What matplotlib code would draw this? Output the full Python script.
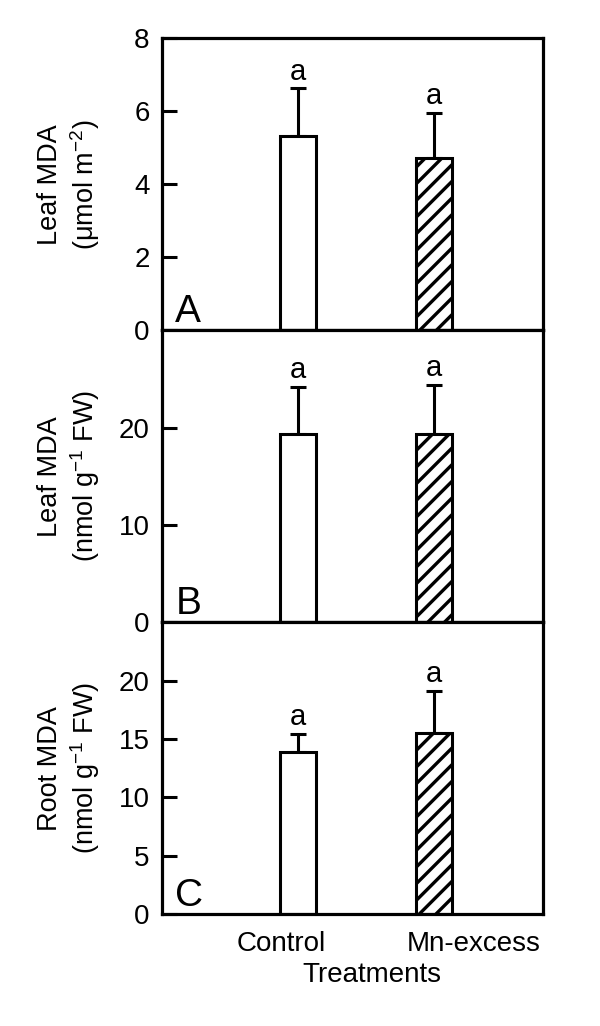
import numpy as np
import matplotlib
matplotlib.use('Agg')
import matplotlib.pyplot as plt

plt.rcParams['font.family'] = ['Liberation Sans', 'DejaVu Sans']
plt.rcParams['mathtext.fontset'] = 'custom'
plt.rcParams['mathtext.rm'] = 'Liberation Sans'
plt.rcParams['mathtext.it'] = 'Liberation Sans'
plt.rcParams['hatch.linewidth'] = 2.4

treatments = ['Control', 'Mn-excess']
letters = ['A', 'B', 'C']
ylabels = ['Leaf MDA\n(μmol m$^{-2}$)', 'Leaf MDA\n(nmol g$^{-1}$ FW)', 'Root MDA\n(nmol g$^{-1}$ FW)']
means = [[5.33, 4.73], [19.4, 19.4], [13.9, 15.5]]
errs = [[1.30, 1.22], [4.8, 5.0], [1.55, 3.6]]
sig = [['a', 'a'], ['a', 'a'], ['a', 'a']]
ylims = [8, 30, 25]
yticks = [[0, 2, 4, 6, 8], [0, 10, 20], [0, 5, 10, 15, 20]]

xpos = np.array([1.0, 2.0])
hatches = ['', '//']

fig, axes = plt.subplots(3, 1, figsize=(6, 10.26), dpi=100, sharex=True)
fig.subplots_adjust(left=0.27, right=0.905, top=0.9625, bottom=0.109, hspace=0)

for i, ax in enumerate(axes):
    ax.bar(xpos, means[i], width=0.26, color='white', edgecolor='black',
           linewidth=2.2, hatch=hatches, zorder=2)
    ax.errorbar(xpos, means[i], yerr=[[0, 0], errs[i]], fmt='none', ecolor='black',
                elinewidth=2.2, capsize=6, capthick=2.2, zorder=1)
    for x, m, e, s in zip(xpos, means[i], errs[i], sig[i]):
        ax.annotate(s, (x, m + e), xytext=(0, 2), textcoords='offset points',
                    ha='center', va='bottom', fontsize=21)
    ax.set_xlim(0, 2.8)
    ax.set_ylim(0, ylims[i])
    ax.set_yticks(yticks[i])
    ax.tick_params(axis='y', direction='in', length=11, width=2.2, labelsize=20, pad=9)
    ax.tick_params(axis='x', length=0, labelsize=20, pad=12)
    for sp in ax.spines.values():
        sp.set_linewidth(2.3)
    ax.set_ylabel(ylabels[i], fontsize=19.5, linespacing=1.2)
    ax.yaxis.set_label_coords(-0.158, 0.5)
    ax.text(0.035, 0.0, letters[i], transform=ax.transAxes, ha='left', va='bottom', fontsize=28)

axes[-1].set_xticks([0.88, 2.29])
axes[-1].set_xticklabels(treatments)
axes[-1].set_xlabel('Treatments', fontsize=20, labelpad=0)
axes[-1].xaxis.set_label_coords(0.55, -0.165)

plt.savefig('out.png', dpi=100)
